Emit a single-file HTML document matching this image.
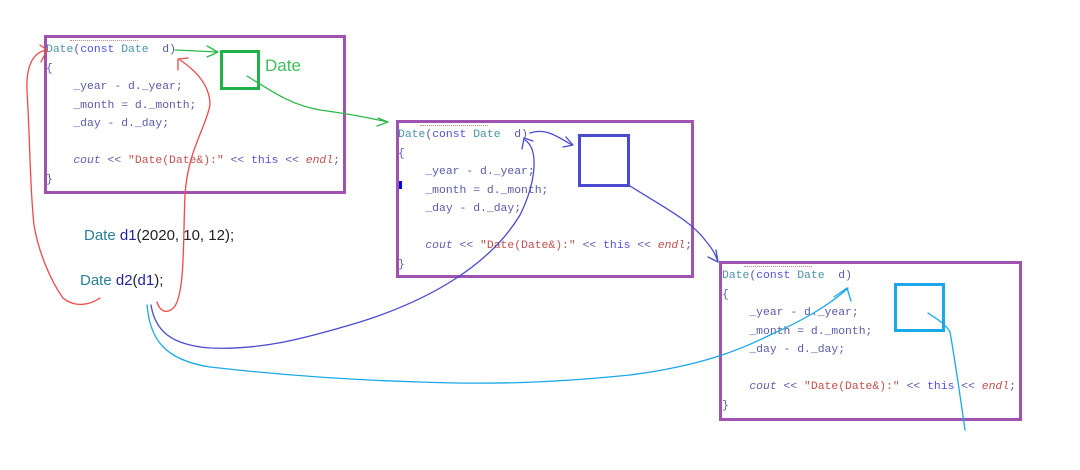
<!DOCTYPE html>
<html><head><meta charset="utf-8">
<style>
html,body{margin:0;padding:0;background:#fff;}
body{width:1080px;height:470px;position:relative;overflow:hidden;font-family:"Liberation Sans",sans-serif;}
.box{position:absolute;border:3px solid #a052b0;box-sizing:border-box;}
.code{position:absolute;font-family:"Liberation Mono",monospace;font-size:11.4px;white-space:pre;color:#5a5aa8;line-height:18.5px;}
.t{color:#4a92a8}.k{color:#5050e0}.s{color:#c0504d}.c{color:#6060b0;font-style:italic}.e{color:#c0504d;font-style:italic}
.sq{position:absolute;box-sizing:border-box;}
.txt{position:absolute;font-size:15px;white-space:pre;color:#222;}
.squig{position:absolute;height:2px;border-top:1px dotted #f08080;}
</style></head><body>

<div class="box" style="left:44px;top:35px;width:302px;height:159px;"></div>
<div class="box" style="left:396px;top:120px;width:298px;height:158px;"></div>
<div class="box" style="left:719px;top:261px;width:303px;height:160px;"></div>

<div class="squig" style="left:70px;top:40px;width:68px;"></div>
<div class="squig" style="left:420px;top:125px;width:68px;"></div>
<div class="squig" style="left:744px;top:266px;width:68px;"></div>

<div class="code" style="left:46px;top:41px;"><span class="t">Date</span>(<span class="k">const</span> <span class="t">Date</span>  d)
{
    _year - d._year;
    _month = d._month;
    _day - d._day;

    <span class="c">cout</span> &lt;&lt; <span class="s">"Date(Date&amp;):"</span> &lt;&lt; <span class="k">this</span> &lt;&lt; <span class="e">endl</span>;
}</div>
<div class="code" style="left:398px;top:126px;"><span class="t">Date</span>(<span class="k">const</span> <span class="t">Date</span>  d)
{
    _year - d._year;
    _month = d._month;
    _day - d._day;

    <span class="c">cout</span> &lt;&lt; <span class="s">"Date(Date&amp;):"</span> &lt;&lt; <span class="k">this</span> &lt;&lt; <span class="e">endl</span>;
}</div>
<div class="code" style="left:722px;top:267px;"><span class="t">Date</span>(<span class="k">const</span> <span class="t">Date</span>  d)
{
    _year - d._year;
    _month = d._month;
    _day - d._day;

    <span class="c">cout</span> &lt;&lt; <span class="s">"Date(Date&amp;):"</span> &lt;&lt; <span class="k">this</span> &lt;&lt; <span class="e">endl</span>;
}</div>
<div style="position:absolute;left:399px;top:181px;width:3px;height:8px;background:#0000e0;"></div>

<div class="sq" style="left:220px;top:50px;width:40px;height:40px;border:3px solid #22b04a;"></div>
<div class="txt" style="left:265px;top:56px;font-size:17px;color:#3cbf5a;">Date</div>
<div class="sq" style="left:578px;top:134px;width:52px;height:53px;border:3px solid #4a4ad0;"></div>
<div class="sq" style="left:894px;top:283px;width:51px;height:49px;border:3px solid #1aa8e8;"></div>

<div class="txt" style="left:84px;top:227px;"><span style="color:#2a8098">Date</span> <span style="color:#22229a">d1</span>(2020, 10, 12);</div>
<div class="txt" style="left:80px;top:272px;"><span style="color:#2a8098">Date</span> <span style="color:#22229a">d2</span>(<span style="color:#22229a">d1</span>);</div>

<svg width="1080" height="470" style="position:absolute;left:0;top:0;" fill="none" stroke-linecap="round" stroke-linejoin="round">
 <g stroke="#f04848" stroke-width="1.3">
  <path d="M100,298 C90,305 75,308 63,298 C50,280 38,250 34,225 C30,190 30,140 27,90 C26,68 32,52 47,50"/>
  <path d="M40,45 L47,50 L41,62"/>
  <path d="M157,302 C160,312 168,315 175,306 C185,290 183,240 185,195 C188,150 205,130 210,105 C210,85 195,70 180,60"/>
  <path d="M178,70 L178,59 L188,58"/>
 </g>
 <g stroke="#2cb84a" stroke-width="1.3">
  <path d="M175,50 L218,52"/>
  <path d="M207,46 L218,52 L207,57"/>
  <path d="M247,76 C270,90 290,105 320,110 C350,114 370,118 388,122"/>
  <path d="M378,118 L388,122 L377,126"/>
 </g>
 <g stroke="#4a4ad0" stroke-width="1.3">
  <path d="M530,133 C545,128 555,135 572,145"/>
  <path d="M566,137 L573,145 L563,147"/>
  <path d="M630,186 C660,205 690,220 705,240 C712,248 716,255 718,262"/>
  <path d="M716,250 L718,262 L708,257"/>
  <path d="M151,305 C155,330 170,345 210,348 C260,350 300,340 360,322 C430,300 490,265 520,215 C535,185 540,150 525,140"/>
  <path d="M522,149 L524,138 L533,141"/>
 </g>
 <g stroke="#1aa8e8" stroke-width="1.3">
  <path d="M147,305 C150,340 165,360 210,367 C280,375 350,380 420,382 C500,385 560,382 630,375 C700,366 740,350 770,335 C800,322 830,305 848,288"/>
  <path d="M834,297 L847,288 L851,301"/>
  <path d="M928,313 C935,318 945,323 950,332 C955,360 960,395 965,430"/>
 </g>
</svg>
</body></html>
